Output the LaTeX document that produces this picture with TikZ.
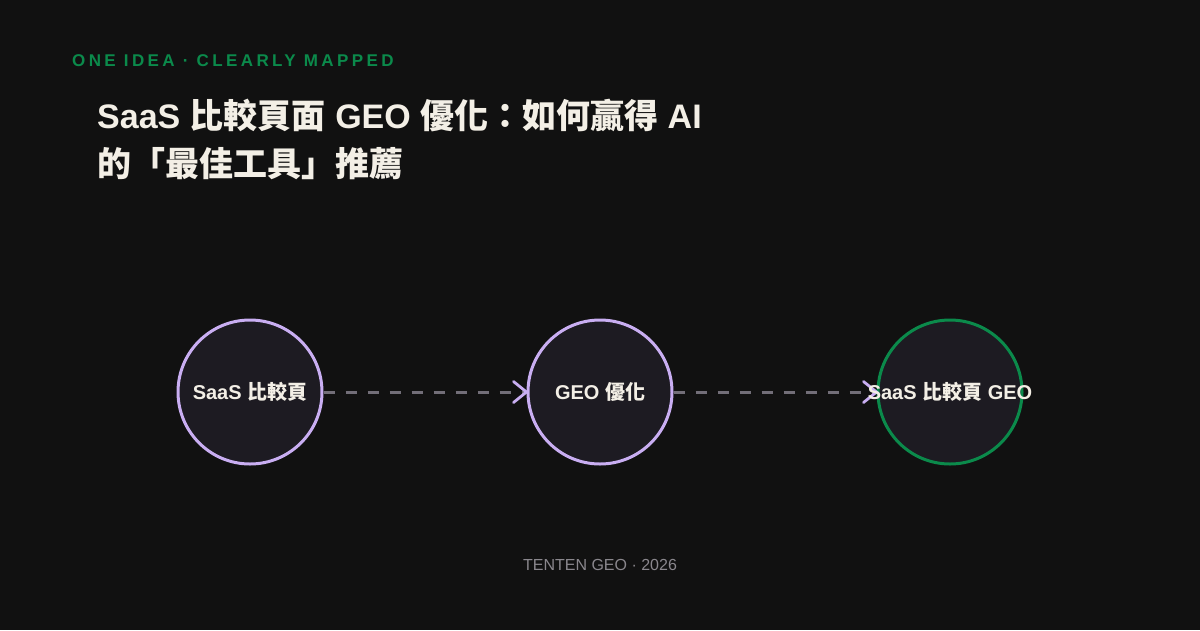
\documentclass[tikz,border=0pt]{standalone}
\usepackage{fontspec}
\setmainfont{Liberation Sans}
\newfontfamily\lat{Liberation Sans}
\newfontfamily\latsp{Liberation Sans}[LetterSpace=20]
\newfontfamily\cjk{Noto Sans CJK TC}
\definecolor{bgc}{HTML}{111111}
\definecolor{cream}{HTML}{F3EFE6}
\definecolor{hgreen}{HTML}{0B8A4B}
\definecolor{cfill}{HTML}{1D1B22}
\definecolor{lav}{HTML}{C9AEF2}
\definecolor{dgray}{HTML}{726E78}
\definecolor{fgray}{HTML}{8A878D}
\tikzset{
  circ/.style={circle, minimum size=144pt, inner sep=0pt, fill=cfill, line width=3pt},
  lavc/.style={circ, draw=lav},
  grnc/.style={circ, draw=hgreen},
  lbl/.style={anchor=base, text=cream, inner sep=0pt, font=\fontsize{20pt}{24pt}\selectfont\bfseries},
  flow/.style={draw=dgray, line width=3pt, dash pattern=on 11pt off 11pt},
  chev/.style={draw=lav, line width=2.8pt, line cap=round, line join=miter},
  ttl/.style={anchor=base west, text=cream, inner sep=0pt, font=\fontsize{34pt}{40pt}\selectfont\bfseries}
}
\begin{document}
\begin{tikzpicture}[x=1pt,y=-1pt]
\fill[bgc] (0,0) rectangle (1200,630);
\useasboundingbox (0,0) rectangle (1200,630);
\node[anchor=base west, text=hgreen, inner sep=0pt, font=\fontsize{17pt}{20pt}\selectfont\bfseries\latsp] (hdr) at (72,66) {ONE IDEA · CLEARLY MAPPED};
\node[ttl] (t1) at (97,128) {{\lat SaaS }{\cjk 比較頁面}{\lat{} GEO }{\cjk 優化：如何贏得}{\lat{} AI}};
\node[ttl] (t2) at (97,176) {{\cjk 的「最佳工具」推薦}};
\node[lavc] (a) at (250,392) {};
\node[lavc] (b) at (600,392) {};
\node[grnc] (c) at (950,392) {};
\draw[flow] (a.east) -- (b.west);
\draw[flow] (b.east) -- (c.west);
\draw[chev] (b.west) ++(-13,-10.5) -- (b.west) -- ++(-13,10.5);
\draw[chev] (c.west) ++(-13,-10.5) -- (c.west) -- ++(-13,10.5);
\node[lbl] (la) at (250,399) {{\lat SaaS }{\cjk 比較頁}};
\node[lbl] (lb) at (600,399) {{\lat GEO }{\cjk 優化}};
\node[lbl] (lc) at (950,399) {{\lat SaaS }{\cjk 比較頁}{\lat{} GEO}};
\node[anchor=base, text=fgray, inner sep=0pt, font=\fontsize{16pt}{19pt}\selectfont] (ft) at (600,570) {TENTEN GEO · 2026};
\end{tikzpicture}
\end{document}
